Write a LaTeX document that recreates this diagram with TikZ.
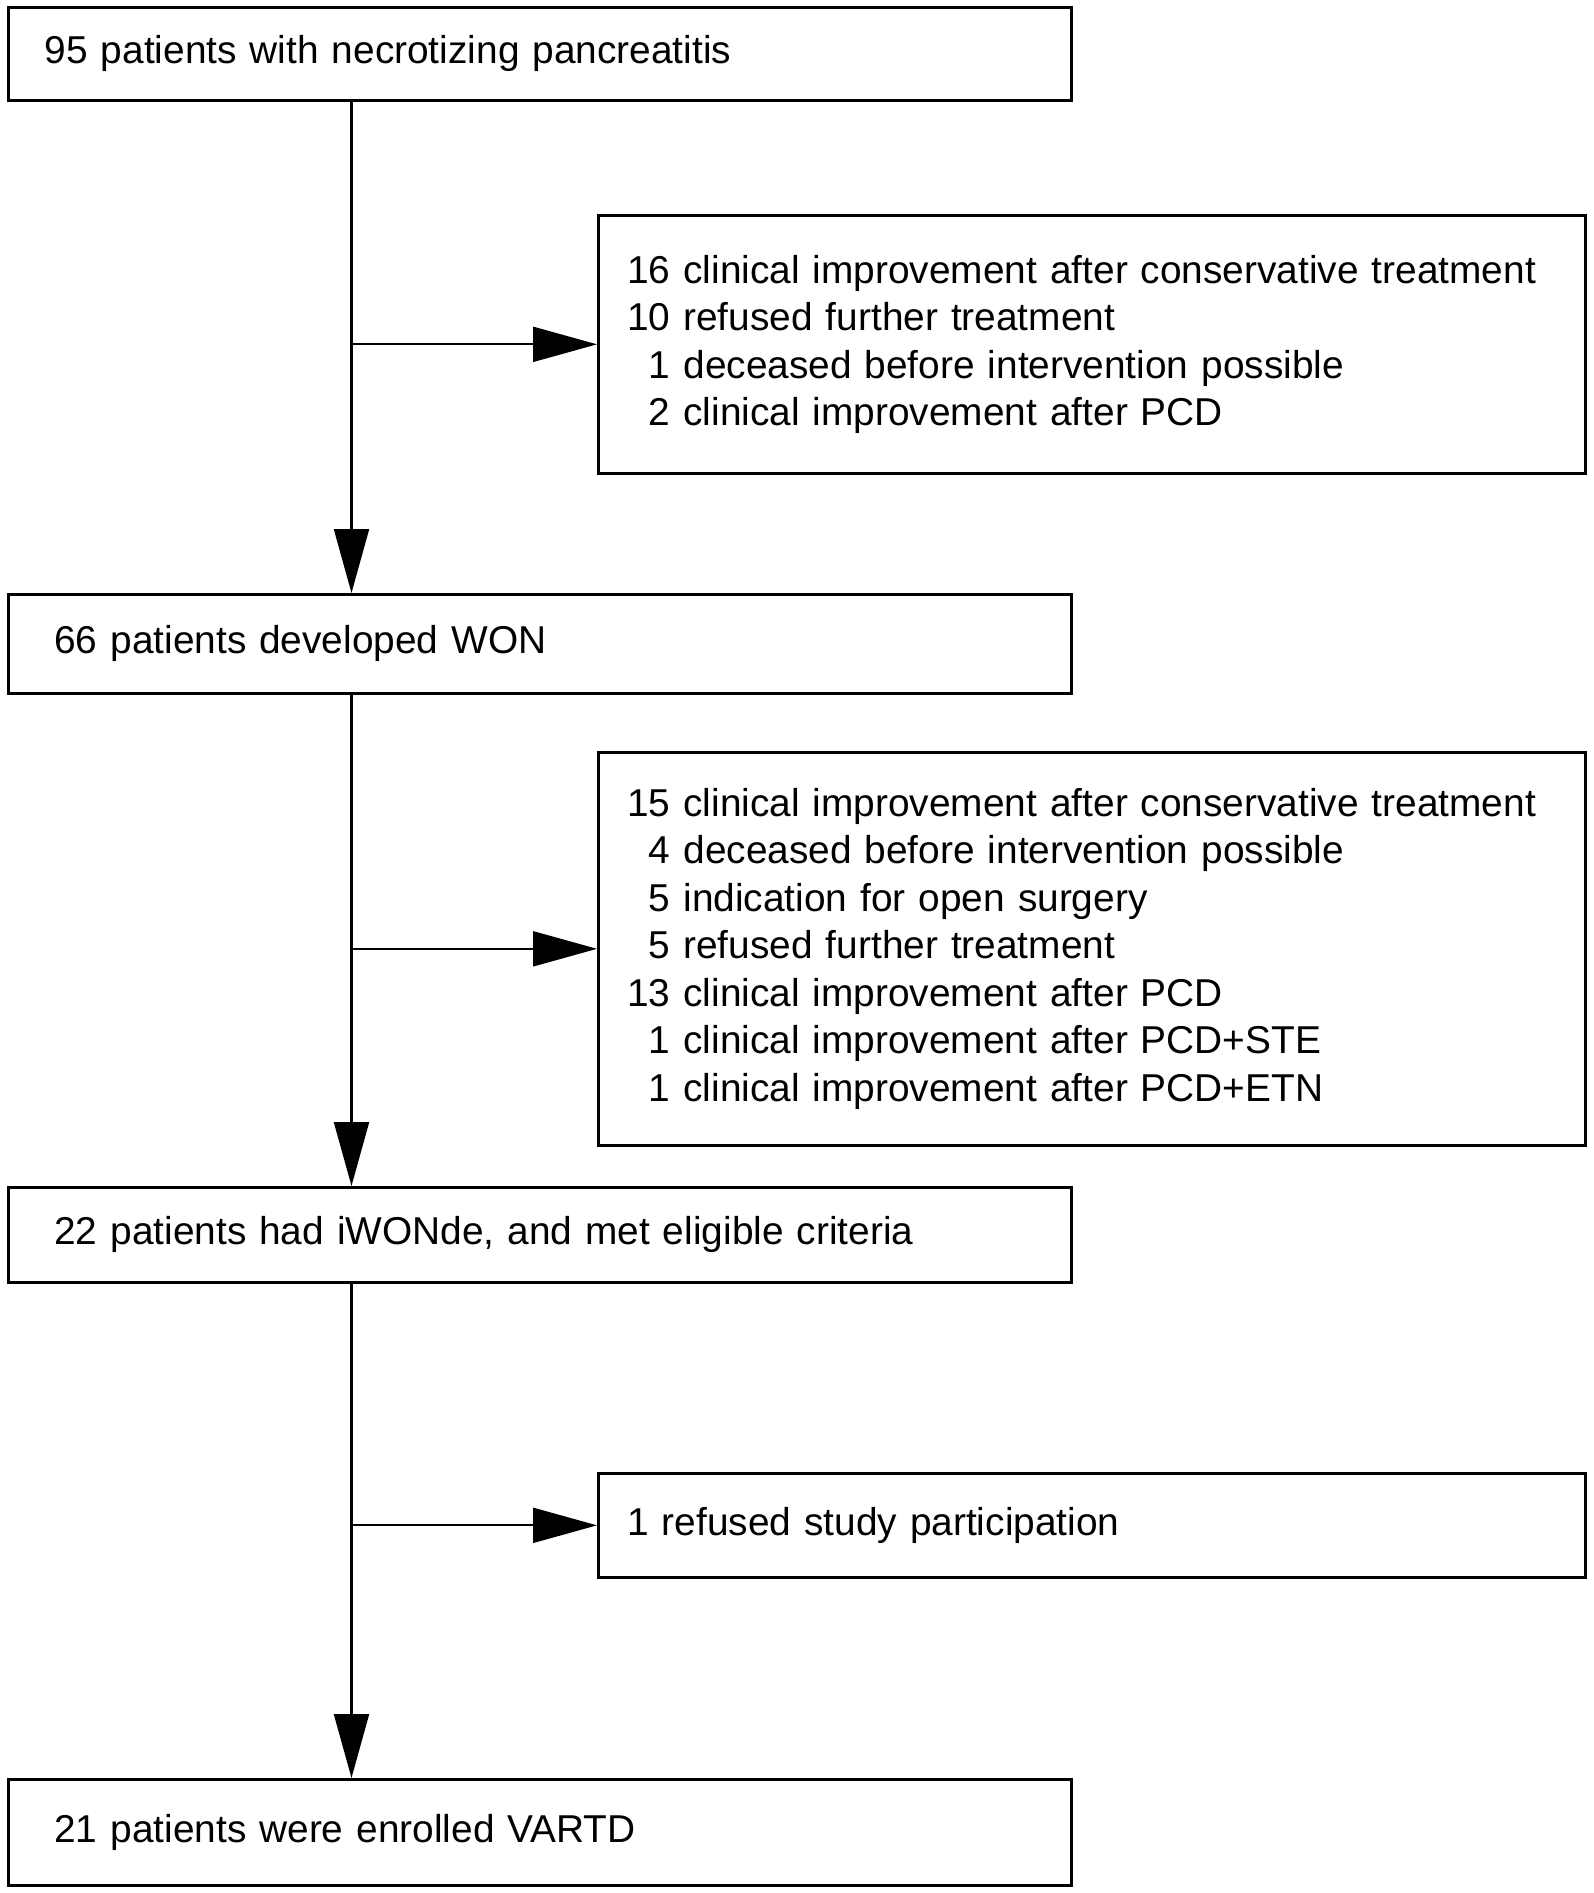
\documentclass[tikz,border=0pt]{standalone}
\usepackage{fontspec}
\setmainfont{Liberation Sans}
\usetikzlibrary{arrows.meta}
\begin{document}
\begin{tikzpicture}[
  font=\fontsize{11.05}{13.5}\selectfont,
  mainbox/.style={draw, line width=0.75pt, text width=9.71cm, inner xsep=0.46cm, align=left, anchor=north west},
  sidebox/.style={draw, line width=0.75pt, text width=9.29cm, inner xsep=0.29cm, align=left, anchor=north west},
  flow/.style={line width=0.6pt, -{Triangle[length=0.64cm, width=0.35cm]}}
]
  \useasboundingbox (0,0) rectangle (15.94,-18.93);
  \def\trunk{3.515}
  \def\sidex{5.97}

  % main column
  \node[mainbox, text width=9.90cm, inner xsep=0.365cm, minimum height=0.93cm] (patients) at (0.07,-0.06) {95 patients with necrotizing pancreatitis};
  \node[mainbox, minimum height=0.99cm] (won) at (0.07,-5.93) {66 patients developed WON};
  \node[mainbox, minimum height=0.95cm] (iwonde) at (0.07,-11.86) {22 patients had iWONde, and met eligible criteria};
  \node[mainbox, minimum height=1.06cm] (enrolled) at (0.07,-17.78) {21 patients were enrolled VARTD};

  % excluded
  \node[sidebox, minimum height=2.58cm] (excl1) at (\sidex,-2.14) {16 clinical improvement after conservative treatment\\
10 refused further treatment\\
\hphantom{1}1 deceased before intervention possible\\
\hphantom{1}2 clinical improvement after PCD};
  \node[sidebox, minimum height=3.93cm] (excl2) at (\sidex,-7.51) {15 clinical improvement after conservative treatment\\
\hphantom{1}4 deceased before intervention possible\\
\hphantom{1}5 indication for open surgery\\
\hphantom{1}5 refused further treatment\\
13 clinical improvement after PCD\\
\hphantom{1}1 clinical improvement after PCD+STE\\
\hphantom{1}1 clinical improvement after PCD+ETN};
  \node[sidebox, minimum height=1.04cm] (excl3) at (\sidex,-14.72) {1 refused study participation};

  \coordinate (j1) at (\trunk,0 |- excl1.west);
  \coordinate (j2) at (\trunk,0 |- excl2.west);
  \coordinate (j3) at (\trunk,0 |- excl3.west);

  \draw[flow] (patients.south -| j1) -- (won.north -| j1);
  \draw[flow] (won.south -| j2) -- (iwonde.north -| j2);
  \draw[flow] (iwonde.south -| j3) -- (enrolled.north -| j3);

  \draw[flow] (j1) -- (excl1.west);
  \draw[flow] (j2) -- (excl2.west);
  \draw[flow] (j3) -- (excl3.west);
\end{tikzpicture}
\end{document}
